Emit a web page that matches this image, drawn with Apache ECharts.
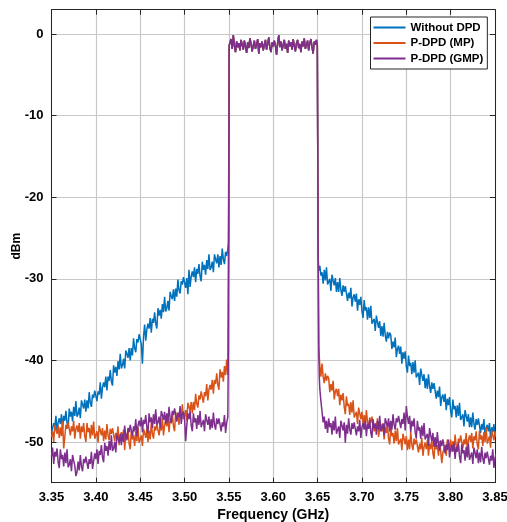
<!DOCTYPE html>
<html>
<head>
<meta charset="utf-8">
<script src="https://cdn.jsdelivr.net/npm/echarts@6/dist/echarts.min.js"></script>
<style>
html,body{margin:0;padding:0;background:#fff;}
#chart{width:507px;height:522px;}
</style>
</head>
<body>
<div id="chart"></div>
<script>
// ---- data ----
const seriesNames = ['Without DPD', 'P-DPD (MP)', 'P-DPD (GMP)'];
const xTicks = [3.35, 3.40, 3.45, 3.50, 3.55, 3.60, 3.65, 3.70, 3.75, 3.80, 3.85];
const yTicks = [-50, -40, -30, -20, -10, 0];
const freqStep = 0.00125;
const leftStart = 3.35;    // 160 samples up to 3.54875
const bandStart = 3.5512;  // 79 samples up to 3.6487
const rightStart = 3.6525; // 160 samples up to 3.85

const inBand = [
  -1.2, -0.6, -1.8, -0.1, -1.4, -2.2, -0.9, -1.6,
  -1.1, -2.0, -0.7, -1.3, -1.9, -0.8, -1.5, -2.3,
  -1.0, -1.7, -0.5, -1.2, -2.1, -1.4, -0.8, -1.8,
  -1.3, -0.6, -2.4, -1.1, -1.6, -0.9, -2.0, -1.3,
  -0.7, -1.9, -1.2, -0.4, -1.7, -2.2, -1.0, -1.5,
  -0.8, -1.4, -2.5, -1.1, -0.1, -1.6, -0.9, -2.0,
  -1.3, -0.7, -1.8, -1.2, -2.3, -0.8, -1.5, -1.0,
  -1.9, -0.6, -1.4, -2.1, -1.1, -0.7, -1.7, -1.2,
  -2.2, -0.9, -1.5, -0.5, -1.8, -1.3, -0.8, -2.0,
  -1.1, -0.6, -1.6, -2.4, -0.9, -1.3, -0.7
];

const blueLeft = [
  -48.9, -48.8, -47.7, -48.2, -46.8, -48.9, -47.6, -47.1,
  -47.8, -46.6, -48.4, -46.8, -47.4, -46.2, -47.7, -48.3,
  -45.9, -46.9, -46.3, -47.5, -45.7, -46.8, -45.0, -46.9,
  -46.6, -45.8, -47.1, -44.9, -45.4, -45.9, -44.8, -46.3,
  -44.9, -45.9, -43.9, -45.2, -45.7, -44.2, -44.6, -43.7,
  -43.7, -45.0, -43.8, -44.2, -42.7, -44.7, -43.3, -42.7,
  -43.3, -42.0, -43.7, -42.0, -42.5, -41.2, -42.6, -43.1,
  -40.6, -41.5, -40.8, -41.9, -40.1, -41.1, -39.2, -41.0,
  -40.6, -39.8, -41.0, -38.8, -39.2, -39.7, -38.5, -40.0,
  -38.5, -39.4, -37.3, -38.5, -39.0, -37.4, -37.8, -36.8,
  -36.7, -38.0, -40.4, -37.1, -35.6, -37.6, -36.2, -35.5,
  -36.1, -34.8, -36.6, -34.9, -35.4, -34.1, -35.5, -36.1,
  -33.6, -34.5, -33.8, -34.9, -33.1, -34.1, -32.2, -34.0,
  -33.6, -32.7, -33.9, -31.6, -32.1, -32.5, -31.3, -32.7,
  -31.2, -32.2, -30.1, -31.4, -31.8, -30.3, -30.7, -29.8,
  -29.7, -31.1, -29.9, -31.9, -28.9, -31.0, -29.7, -29.1,
  -29.8, -28.6, -30.4, -28.8, -29.4, -28.2, -29.7, -30.3,
  -27.9, -28.9, -28.3, -29.5, -27.7, -28.8, -27.0, -28.9,
  -28.6, -27.9, -29.2, -27.0, -27.6, -28.1, -27.0, -28.6,
  -27.2, -28.3, -26.3, -27.6, -28.2, -26.7, -27.2, -26.4
];
const blueEdgeL = [[3.5495, -25.5], [3.5503, -1.4]];
const blueEdgeR = [[3.6497, -1.4], [3.6506, -27.5], [3.6515, -29.0]];
const blueRight = [
  -28.4, -29.6, -29.2, -30.6, -28.9, -30.2, -28.6, -30.7,
  -30.6, -30.0, -31.5, -29.5, -30.2, -30.8, -29.9, -31.6,
  -30.4, -31.6, -29.9, -31.4, -32.1, -30.8, -31.6, -30.9,
  -31.1, -32.7, -31.7, -32.4, -31.1, -33.4, -32.3, -31.9,
  -32.8, -31.8, -33.9, -32.5, -33.2, -32.2, -34.0, -34.8,
  -32.6, -33.9, -33.5, -35.0, -33.5, -34.8, -33.3, -35.5,
  -35.4, -34.9, -36.4, -34.5, -35.3, -36.0, -35.2, -37.0,
  -35.8, -37.1, -35.4, -36.9, -37.7, -36.5, -37.3, -36.6,
  -36.9, -38.6, -37.7, -38.4, -37.2, -39.6, -38.6, -38.2,
  -39.2, -38.3, -40.4, -39.0, -39.8, -38.9, -40.7, -41.5,
  -39.4, -40.7, -40.3, -41.7, -40.2, -41.5, -40.0, -42.1,
  -42.0, -41.5, -43.0, -41.0, -41.8, -42.5, -41.7, -43.4,
  -42.2, -43.5, -41.7, -43.2, -44.0, -42.7, -43.5, -42.8,
  -43.0, -44.7, -43.7, -44.5, -43.2, -45.6, -44.5, -44.2,
  -45.1, -44.1, -46.1, -44.7, -45.5, -44.5, -46.2, -47.0,
  -44.8, -46.0, -45.6, -47.0, -45.5, -46.8, -45.2, -47.3,
  -47.2, -46.6, -48.1, -46.1, -46.8, -47.5, -46.6, -48.2,
  -47.0, -48.2, -46.4, -47.8, -48.5, -47.2, -47.9, -47.1,
  -47.3, -48.9, -47.8, -48.5, -47.2, -49.4, -48.3, -47.9,
  -48.7, -47.7, -49.6, -48.2, -48.8, -47.8, -49.4, -49.0
];

const orangeLeft = [
  -49.4, -48.7, -50.0, -47.9, -48.5, -49.0, -48.0, -49.5,
  -48.2, -49.3, -47.4, -50.8, -49.4, -47.9, -48.4, -47.6,
  -47.7, -49.2, -48.1, -48.7, -47.4, -49.6, -48.4, -48.0,
  -48.8, -47.7, -49.6, -48.1, -48.8, -47.7, -49.3, -50.0,
  -47.7, -48.8, -48.3, -49.6, -47.9, -49.2, -47.5, -49.6,
  -49.4, -48.7, -50.1, -48.0, -48.6, -49.2, -48.3, -49.9,
  -48.6, -49.7, -47.8, -49.2, -49.8, -48.4, -49.0, -48.3,
  -48.4, -49.9, -48.9, -49.5, -48.1, -50.4, -49.3, -48.8,
  -49.6, -48.5, -51.0, -49.0, -49.6, -48.5, -50.2, -50.9,
  -48.6, -49.7, -49.2, -50.5, -48.7, -49.9, -48.2, -50.1,
  -49.9, -49.2, -50.5, -48.4, -48.9, -49.5, -48.4, -50.0,
  -48.6, -49.7, -47.7, -49.0, -49.6, -48.1, -48.6, -47.8,
  -47.8, -49.2, -48.1, -48.6, -47.1, -49.2, -48.0, -47.4,
  -48.1, -46.9, -48.8, -47.2, -47.7, -46.5, -48.1, -48.7,
  -46.3, -47.3, -46.7, -47.9, -46.1, -47.2, -45.4, -47.2,
  -46.9, -46.1, -47.4, -45.2, -45.7, -46.2, -45.1, -46.5,
  -45.1, -46.1, -44.1, -45.3, -45.8, -44.3, -44.8, -43.8,
  -43.8, -45.2, -43.9, -44.4, -42.9, -44.9, -43.6, -43.0,
  -43.6, -42.4, -44.1, -42.4, -42.9, -41.6, -43.0, -43.6,
  -41.1, -42.1, -41.4, -42.6, -40.7, -41.8, -39.9, -41.8
];
const orangeEdgeL = [[3.5492, -33.0], [3.5497, -24.0], [3.5503, -1.4]];
const orangeEdgeR = [[3.6497, -1.4], [3.6506, -26.0], [3.6513, -38.5]];
const orangeRight = [
  -40.7, -42.0, -40.4, -42.0, -42.8, -41.6, -42.5, -41.9,
  -42.2, -43.9, -42.9, -43.7, -42.5, -44.8, -43.8, -43.5,
  -44.4, -43.5, -45.5, -44.2, -44.9, -44.0, -45.7, -46.6,
  -44.4, -45.6, -45.3, -46.7, -45.1, -46.4, -44.9, -47.0,
  -46.9, -46.3, -47.8, -45.8, -46.5, -47.2, -46.3, -47.9,
  -46.7, -47.9, -46.1, -47.6, -48.3, -47.0, -47.7, -46.9,
  -47.1, -48.7, -47.7, -48.4, -47.1, -49.4, -48.3, -47.8,
  -48.7, -47.7, -49.7, -48.2, -48.9, -47.9, -49.6, -50.3,
  -48.1, -49.3, -48.9, -50.2, -48.6, -49.9, -48.3, -50.3,
  -50.2, -49.6, -51.0, -49.0, -49.6, -50.3, -49.3, -51.0,
  -49.7, -50.9, -48.8, -50.3, -51.0, -49.6, -50.3, -49.7,
  -49.8, -51.3, -50.2, -50.9, -49.5, -51.7, -50.6, -50.1,
  -50.9, -49.8, -51.7, -50.2, -50.9, -49.8, -51.4, -52.1,
  -49.8, -50.9, -50.4, -51.7, -49.9, -51.1, -52.6, -51.3,
  -51.1, -50.4, -51.7, -49.7, -50.2, -50.8, -49.7, -51.2,
  -49.9, -51.0, -49.1, -50.5, -51.1, -49.6, -50.1, -49.2,
  -49.3, -50.8, -49.7, -50.3, -48.9, -51.0, -49.8, -49.2,
  -50.0, -48.9, -50.8, -49.3, -49.8, -48.7, -50.3, -50.9,
  -48.6, -49.7, -49.2, -50.5, -48.8, -50.0, -48.2, -50.2,
  -50.0, -49.3, -50.7, -48.6, -49.2, -49.8, -48.7, -49.2
];

const purpleLeft = [
  -51.8, -50.7, -52.7, -51.2, -51.8, -50.8, -52.5, -53.2,
  -50.9, -52.1, -51.6, -53.0, -51.3, -52.6, -50.9, -53.1,
  -52.8, -52.1, -53.6, -51.6, -52.3, -52.9, -54.2, -53.7,
  -52.4, -53.5, -51.6, -53.0, -53.6, -52.1, -52.6, -51.8,
  -51.9, -53.3, -52.1, -52.7, -51.2, -53.3, -53.4, -51.4,
  -52.1, -50.9, -52.7, -51.1, -51.6, -50.4, -51.9, -52.5,
  -50.1, -51.1, -50.5, -51.7, -49.9, -51.0, -49.2, -51.1,
  -50.8, -50.0, -51.3, -49.1, -49.6, -50.1, -49.0, -50.4,
  -49.0, -50.0, -48.0, -49.3, -49.8, -48.3, -48.8, -47.9,
  -47.9, -49.3, -48.1, -48.7, -47.2, -49.3, -48.0, -47.4,
  -48.1, -47.0, -48.8, -47.3, -47.8, -46.7, -48.2, -48.9,
  -46.5, -47.6, -47.0, -48.3, -46.6, -47.8, -46.0, -47.9,
  -47.6, -46.9, -48.3, -46.2, -46.7, -47.3, -46.3, -47.8,
  -46.5, -47.6, -45.7, -47.1, -47.7, -46.2, -46.7, -45.9,
  -46.0, -47.5, -46.4, -47.0, -45.6, -47.8, -46.6, -46.3,
  -47.1, -49.9, -48.0, -46.5, -47.2, -46.2, -48.0, -48.7,
  -46.5, -47.6, -47.1, -48.4, -46.7, -47.9, -46.2, -48.2,
  -48.0, -47.3, -48.7, -46.6, -47.3, -47.9, -46.9, -48.5,
  -47.2, -48.3, -46.4, -47.9, -48.5, -47.1, -47.8, -47.1,
  -47.2, -48.7, -47.6, -48.1, -46.7, -48.9, -47.6, -47.0
];
const purpleEdgeL = [[3.5490, -44.0], [3.5494, -38.0], [3.5498, -24.0], [3.5503, -1.4]];
const purpleEdgeR = [[3.6497, -1.4], [3.6506, -26.0], [3.6513, -38.5], [3.6519, -42.0]];
const purpleRight = [
  -43.5, -45.0, -46.3, -47.6, -46.9, -48.4, -47.4, -48.9,
  -47.1, -48.2, -47.7, -49.1, -47.4, -48.6, -46.9, -49.0,
  -48.8, -48.1, -49.5, -47.4, -48.0, -48.6, -47.6, -50.1,
  -47.9, -49.0, -47.1, -48.5, -49.1, -47.7, -48.4, -47.6,
  -47.7, -49.2, -48.1, -48.7, -47.3, -49.5, -48.2, -47.7,
  -48.5, -47.4, -49.3, -47.8, -48.4, -47.3, -48.9, -49.5,
  -47.2, -48.3, -47.8, -49.1, -47.4, -48.5, -46.8, -48.7,
  -48.5, -47.8, -49.2, -47.1, -47.6, -48.2, -47.1, -48.7,
  -47.4, -48.5, -46.6, -47.9, -48.5, -47.1, -47.6, -46.8,
  -46.8, -48.3, -47.2, -47.8, -46.4, -48.6, -45.6, -46.9,
  -47.8, -46.8, -48.8, -47.4, -48.1, -47.1, -48.8, -49.6,
  -47.4, -48.6, -48.2, -49.6, -48.0, -49.3, -47.7, -49.7,
  -49.6, -49.0, -50.5, -48.3, -49.2, -49.9, -48.9, -50.6,
  -49.4, -50.6, -48.8, -50.3, -51.1, -49.8, -50.5, -49.7,
  -49.8, -51.4, -50.3, -51.0, -49.7, -51.9, -50.8, -50.4,
  -51.2, -50.1, -52.1, -50.6, -51.2, -50.1, -51.8, -52.6,
  -50.3, -51.4, -51.0, -52.3, -50.6, -51.9, -50.2, -52.2,
  -52.0, -51.3, -52.7, -50.7, -51.3, -52.0, -50.9, -52.6,
  -51.3, -52.5, -50.6, -52.0, -52.7, -51.3, -52.0, -51.2,
  -51.3, -52.8, -51.7, -52.3, -50.9, -53.2, -52.0, -51.4
];

const colors = ['#0072BD', '#D95319', '#7E2F8E'];

// ---- build ----
function freqs(start, n) {
  const out = [];
  for (let i = 0; i < n; i++) out.push(+(start + i * freqStep).toFixed(5));
  return out;
}
function zip(fs, vs) { return vs.map((v, i) => [fs[i], v]); }
function build(left, edgeL, edgeR, right) {
  return [].concat(
    zip(freqs(leftStart, left.length), left),
    edgeL,
    zip(freqs(bandStart, inBand.length), inBand),
    edgeR,
    zip(freqs(rightStart, right.length), right)
  );
}
const seriesData = [
  build(blueLeft, blueEdgeL, blueEdgeR, blueRight),
  build(orangeLeft, orangeEdgeL, orangeEdgeR, orangeRight),
  build(purpleLeft, purpleEdgeL, purpleEdgeR, purpleRight)
];

const font = '"Liberation Sans", Arial, sans-serif';
const chart = echarts.init(document.getElementById('chart'), null, {renderer: 'canvas'});
const tickStyle = {show: true, inside: true, length: 5, lineStyle: {color: '#262626', width: 1}};
const lineAxis = {show: true, onZero: false, lineStyle: {color: '#262626', width: 1}};
const gridLine = {show: true, lineStyle: {color: '#c8c8c8', width: 1.2}};

chart.setOption({
  animation: false,
  backgroundColor: '#fff',
  color: colors,
  grid: {left: 51.5, right: 12, top: 9.7, bottom: 39.3, containLabel: false, outerBoundsMode: 'none'},
  legend: {
    orient: 'vertical',
    left: 370.5,
    top: 17,
    data: seriesNames,
    backgroundColor: '#fff',
    borderColor: '#262626',
    borderWidth: 1,
    padding: [3.5, 4, 3.5, 3],
    itemGap: 1.5,
    itemWidth: 32,
    itemHeight: 2,
    icon: 'rect',
    textStyle: {fontFamily: font, fontWeight: 'bold', fontSize: 11.5, color: '#000', lineHeight: 14}
  },
  xAxis: [{
    type: 'value',
    min: xTicks[0], max: xTicks[xTicks.length - 1], interval: 0.05,
    name: 'Frequency (GHz)', nameLocation: 'middle', nameGap: 25, nameMoveOverlap: false,
    nameTextStyle: {fontFamily: font, fontWeight: 'bold', fontSize: 14, color: '#000'},
    axisLine: lineAxis,
    axisTick: tickStyle,
    axisLabel: {fontFamily: font, fontWeight: 'bold', fontSize: 13, color: '#000', margin: 8,
      formatter: v => v.toFixed(2)},
    splitLine: gridLine
  }, {
    type: 'value', position: 'top',
    min: xTicks[0], max: xTicks[xTicks.length - 1], interval: 0.05,
    axisLine: lineAxis, axisTick: tickStyle, axisLabel: {show: false}, splitLine: {show: false}
  }],
  yAxis: [{
    type: 'value',
    min: -55, max: 3,
    name: 'dBm', nameLocation: 'middle', nameGap: 29, nameMoveOverlap: false,
    nameTextStyle: {fontFamily: font, fontWeight: 'bold', fontSize: 12, color: '#000'},
    axisLine: lineAxis,
    axisTick: Object.assign({customValues: yTicks}, tickStyle),
    axisLabel: {customValues: yTicks, fontFamily: font, fontWeight: 'bold', fontSize: 13, color: '#000', margin: 8},
    splitLine: gridLine
  }, {
    type: 'value', position: 'right',
    min: -55, max: 3,
    axisLine: lineAxis,
    axisTick: Object.assign({customValues: yTicks}, tickStyle),
    axisLabel: {show: false}, splitLine: {show: false}
  }],
  series: seriesNames.map((name, i) => ({
    name: name,
    type: 'line',
    data: seriesData[i],
    showSymbol: false,
    symbol: 'none',
    lineStyle: {width: 1.5, color: colors[i]},
    itemStyle: {color: colors[i]},
    z: 2 + i
  }))
});
</script>
</body>
</html>
